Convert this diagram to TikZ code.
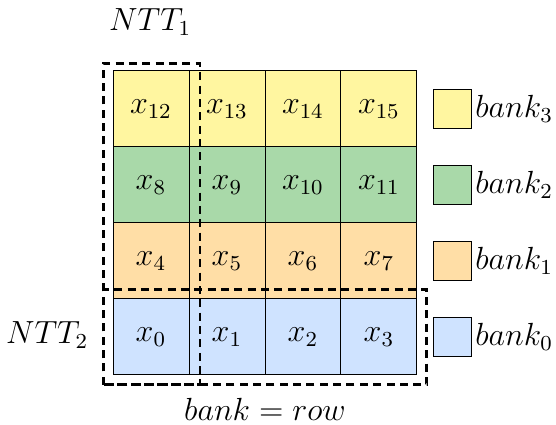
\documentclass[tikz,border=0pt]{standalone}
\usepackage{amsmath,amssymb}
\usepackage{xcolor}
\usetikzlibrary{positioning, calc}
\definecolor{bThree}{RGB}{255,246,160}
\definecolor{bTwo}{RGB}{169,217,169}
\definecolor{bOne}{RGB}{255,222,166}
\definecolor{bZero}{RGB}{207,227,255}

\begin{document}
\begin{tikzpicture}[
    cell/.style={draw=black, line width=0.35pt, minimum size=1cm, inner sep=0pt, font=\large},
    key/.style={draw=black, line width=0.4pt, minimum width=0.5cm, minimum height=0.52cm, inner sep=0pt},
    group/.style={draw=black, line width=1.1pt, dash pattern=on 3pt off 2pt}
]
    \useasboundingbox (-1.487,-0.658) rectangle (5.83,4.934);

    % bank 3 (top row)
    \node[cell, fill=bThree] (x12) at (0.5,3.5) {$x_{12}$};
    \node[cell, fill=bThree] (x13) at (1.5,3.5) {$x_{13}$};
    \node[cell, fill=bThree] (x14) at (2.5,3.5) {$x_{14}$};
    \node[cell, fill=bThree] (x15) at (3.5,3.5) {$x_{15}$};

    % bank 2
    \node[cell, fill=bTwo] (x8) at (0.5,2.5) {$x_{8}$};
    \node[cell, fill=bTwo] (x9) at (1.5,2.5) {$x_{9}$};
    \node[cell, fill=bTwo] (x10) at (2.5,2.5) {$x_{10}$};
    \node[cell, fill=bTwo] (x11) at (3.5,2.5) {$x_{11}$};

    % bank 1
    \node[cell, fill=bOne] (x4) at (0.5,1.5) {$x_{4}$};
    \node[cell, fill=bOne] (x5) at (1.5,1.5) {$x_{5}$};
    \node[cell, fill=bOne] (x6) at (2.5,1.5) {$x_{6}$};
    \node[cell, fill=bOne] (x7) at (3.5,1.5) {$x_{7}$};

    % bank 0 (bottom row)
    \node[cell, fill=bZero] (x0) at (0.5,0.5) {$x_{0}$};
    \node[cell, fill=bZero] (x1) at (1.5,0.5) {$x_{1}$};
    \node[cell, fill=bZero] (x2) at (2.5,0.5) {$x_{2}$};
    \node[cell, fill=bZero] (x3) at (3.5,0.5) {$x_{3}$};

    % Legend
    \node[key, fill=bThree] (k3) at (4.47,3.5) {};
    \node[key, fill=bTwo] (k2) at (4.47,2.5) {};
    \node[key, fill=bOne] (k1) at (4.47,1.5) {};
    \node[key, fill=bZero] (k0) at (4.47,0.5) {};
    \node[right=0pt of k3, inner sep=1pt, font=\large] (l3) {$bank_3$};
    \node[right=0pt of k2, inner sep=1pt, font=\large] (l2) {$bank_2$};
    \node[right=0pt of k1, inner sep=1pt, font=\large] (l1) {$bank_1$};
    \node[right=0pt of k0, inner sep=1pt, font=\large] (l0) {$bank_0$};

    % NTT groups
    \draw[group] (-0.13,-0.13) rectangle (1.145,4.1);
    \draw[group] (-0.13,-0.13) rectangle (4.13,1.13);
    \node[font=\large] (ntt1) at (0.49,4.64) {$NTT_1$};
    \node[font=\large, left] (ntt2) at (-0.2,0.52) {$NTT_2$};

    % caption
    \node[font=\large] (cap) at (2.0,-0.46) {$bank = row$};
\end{tikzpicture}
\end{document}
